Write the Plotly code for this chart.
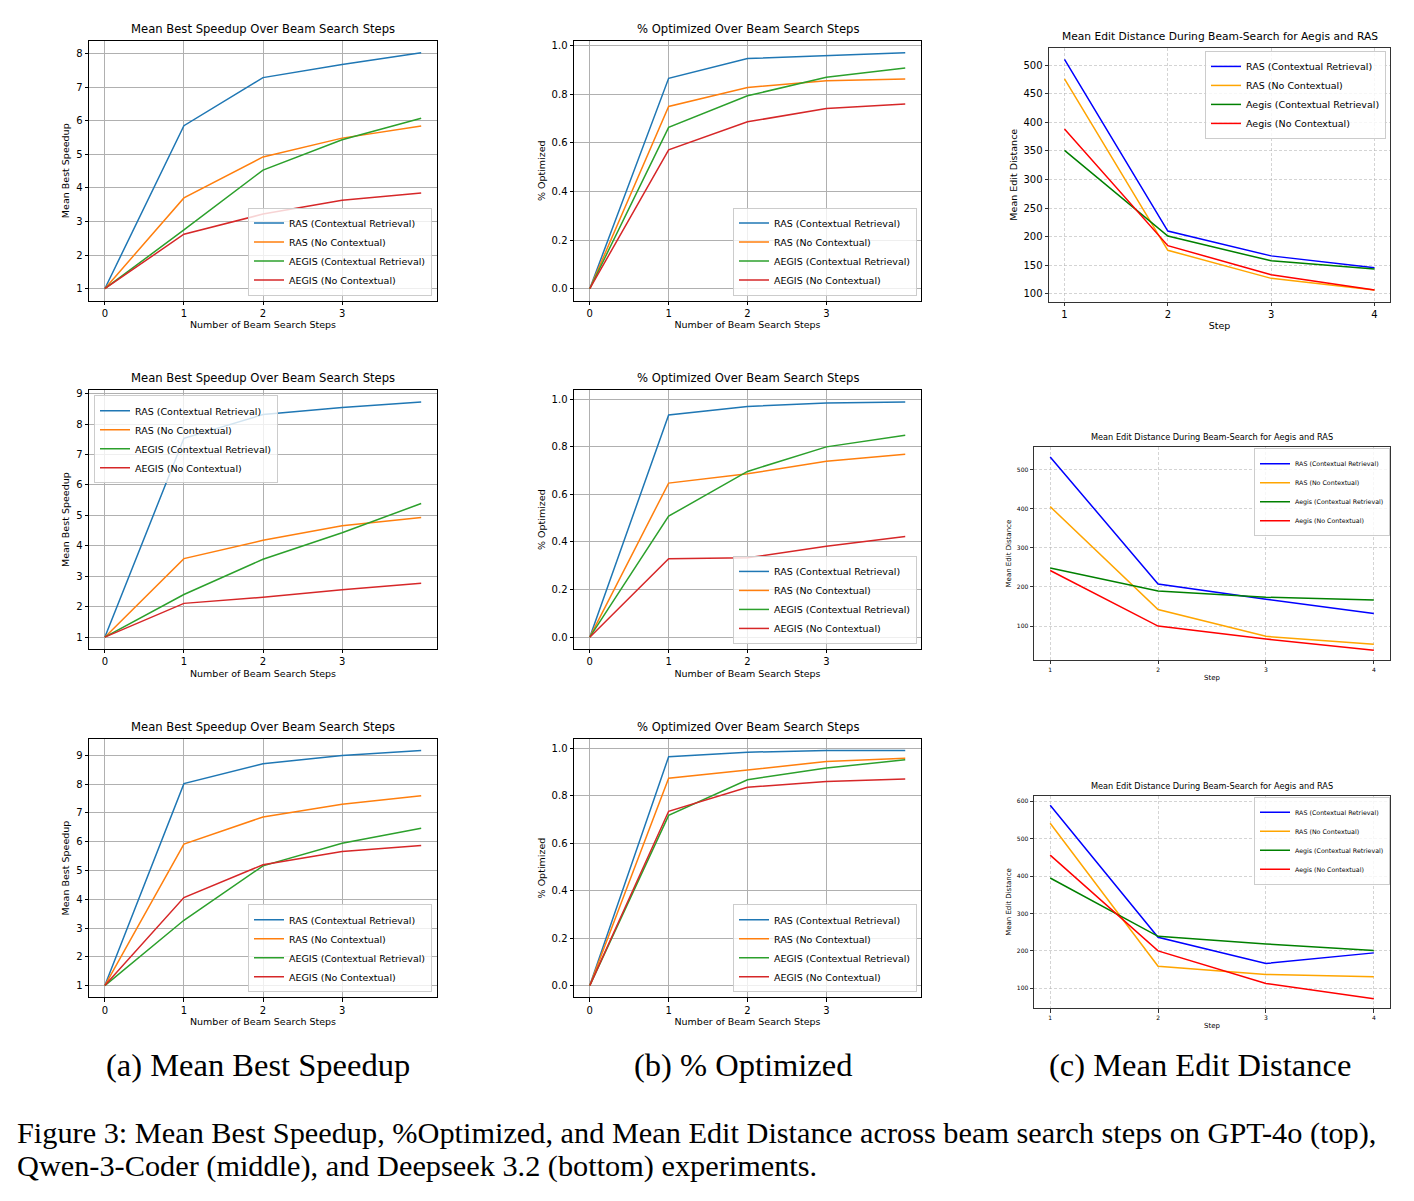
import plotly.graph_objects as go

# ---------------- data ----------------
steps_beam = [0, 1, 2, 3, 4]
steps_edit = [1, 2, 3, 4]

series_names_caps = ["RAS (Contextual Retrieval)", "RAS (No Contextual)",
                     "AEGIS (Contextual Retrieval)", "AEGIS (No Contextual)"]
series_names_edit = ["RAS (Contextual Retrieval)", "RAS (No Contextual)",
                     "Aegis (Contextual Retrieval)", "Aegis (No Contextual)"]

# GPT-4o (top row)
speedup_gpt_ras_cr = [1.0, 5.85, 7.28, 7.67, 8.02]
speedup_gpt_ras_nc = [1.0, 3.70, 4.92, 5.48, 5.84]
speedup_gpt_aeg_cr = [1.0, 2.75, 4.53, 5.43, 6.07]
speedup_gpt_aeg_nc = [1.0, 2.62, 3.22, 3.63, 3.85]

opt_gpt_ras_cr = [0.0, 0.865, 0.946, 0.959, 0.970]
opt_gpt_ras_nc = [0.0, 0.749, 0.827, 0.855, 0.862]
opt_gpt_aeg_cr = [0.0, 0.663, 0.793, 0.869, 0.907]
opt_gpt_aeg_nc = [0.0, 0.571, 0.686, 0.741, 0.759]

edit_gpt_ras_cr = [509.8, 209.8, 166.5, 145.7]
edit_gpt_ras_nc = [475.7, 176.3, 127.2, 106.9]
edit_gpt_aeg_cr = [350.9, 201.2, 157.8, 143.4]
edit_gpt_aeg_nc = [388.4, 184.4, 133.5, 106.9]

# Qwen-3-Coder (middle row)
speedup_qwen_ras_cr = [1.0, 7.53, 8.31, 8.54, 8.72]
speedup_qwen_ras_nc = [1.0, 3.58, 4.18, 4.66, 4.93]
speedup_qwen_aeg_cr = [1.0, 2.40, 3.56, 4.43, 5.39]
speedup_qwen_aeg_nc = [1.0, 2.11, 2.31, 2.56, 2.77]

opt_qwen_ras_cr = [0.0, 0.933, 0.969, 0.983, 0.987]
opt_qwen_ras_nc = [0.0, 0.647, 0.686, 0.739, 0.768]
opt_qwen_aeg_cr = [0.0, 0.508, 0.696, 0.799, 0.848]
opt_qwen_aeg_nc = [0.0, 0.329, 0.333, 0.382, 0.423]

edit_qwen_ras_cr = [532.0, 207.4, 168.5, 132.0]
edit_qwen_ras_nc = [405.0, 142.3, 73.8, 53.5]
edit_qwen_aeg_cr = [248.5, 189.6, 173.6, 166.8]
edit_qwen_aeg_nc = [242.0, 100.0, 67.0, 38.3]

# Deepseek 3.2 (bottom row)
speedup_ds_ras_cr = [1.0, 8.02, 8.71, 9.00, 9.17]
speedup_ds_ras_nc = [1.0, 5.92, 6.86, 7.30, 7.60]
speedup_ds_aeg_cr = [1.0, 3.27, 5.16, 5.95, 6.47]
speedup_ds_aeg_nc = [1.0, 4.06, 5.20, 5.66, 5.87]

opt_ds_ras_cr = [0.0, 0.964, 0.983, 0.990, 0.990]
opt_ds_ras_nc = [0.0, 0.873, 0.908, 0.944, 0.957]
opt_ds_aeg_cr = [0.0, 0.717, 0.867, 0.916, 0.951]
opt_ds_aeg_nc = [0.0, 0.734, 0.835, 0.860, 0.870]

edit_ds_ras_cr = [589.4, 236.6, 166.5, 194.9]
edit_ds_ras_nc = [541.5, 159.4, 137.2, 131.0]
edit_ds_aeg_cr = [395.2, 239.2, 218.8, 201.0]
edit_ds_aeg_nc = [456.4, 200.2, 113.3, 72.5]

beam_tick_vals = [0, 1, 2, 3]
edit_tick_vals = [1, 2, 3, 4]
speed_ticks_top = [1, 2, 3, 4, 5, 6, 7, 8]
speed_ticks_9 = [1, 2, 3, 4, 5, 6, 7, 8, 9]
opt_ticks = [0.0, 0.2, 0.4, 0.6, 0.8, 1.0]
edit_ticks_top = [100, 150, 200, 250, 300, 350, 400, 450, 500]
edit_ticks_mid = [100, 200, 300, 400, 500]
edit_ticks_bot = [100, 200, 300, 400, 500, 600]

panel_title_speed = "Mean Best Speedup Over Beam Search Steps"
panel_title_opt = "% Optimized Over Beam Search Steps"
panel_title_edit = "Mean Edit Distance During Beam-Search for Aegis and RAS"

# ---------------- styling ----------------
W, H = 1414, 1201
TAB = ["#1f77b4", "#ff7f0e", "#2ca02c", "#d62728"]
NAMED = ["#0000ff", "#ffa500", "#008000", "#ff0000"]
FONT = "DejaVu Sans, sans-serif"
SERIF = "Liberation Serif, Times New Roman, serif"


def px_x(v):
    return v / W


def px_y(v):
    return 1 - v / H


panels = [
    dict(x=steps_beam, ys=[speedup_gpt_ras_cr, speedup_gpt_ras_nc, speedup_gpt_aeg_cr, speedup_gpt_aeg_nc],
         xd=(89, 437), yd=(39, 299), yt=speed_ticks_top, kind="speed",
         leg=dict(x=432, y=294, xa="right", ya="bottom")),
    dict(x=steps_beam, ys=[opt_gpt_ras_cr, opt_gpt_ras_nc, opt_gpt_aeg_cr, opt_gpt_aeg_nc],
         xd=(574, 921), yd=(39, 299), yt=opt_ticks, kind="opt",
         leg=dict(x=917, y=294, xa="right", ya="bottom")),
    dict(x=steps_edit, ys=[edit_gpt_ras_cr, edit_gpt_ras_nc, edit_gpt_aeg_cr, edit_gpt_aeg_nc],
         xd=(1049, 1390), yd=(46, 300), yt=edit_ticks_top, kind="edit_big",
         leg=dict(x=1386, y=49, xa="right", ya="top")),
    dict(x=steps_beam, ys=[speedup_qwen_ras_cr, speedup_qwen_ras_nc, speedup_qwen_aeg_cr, speedup_qwen_aeg_nc],
         xd=(89, 437), yd=(389, 648), yt=speed_ticks_9, kind="speed",
         leg=dict(x=94, y=394, xa="left", ya="top")),
    dict(x=steps_beam, ys=[opt_qwen_ras_cr, opt_qwen_ras_nc, opt_qwen_aeg_cr, opt_qwen_aeg_nc],
         xd=(574, 921), yd=(389, 648), yt=opt_ticks, kind="opt",
         leg=dict(x=917, y=643, xa="right", ya="bottom")),
    dict(x=steps_edit, ys=[edit_qwen_ras_cr, edit_qwen_ras_nc, edit_qwen_aeg_cr, edit_qwen_aeg_nc],
         xd=(1034, 1390), yd=(446, 659), yt=edit_ticks_mid, kind="edit_small",
         leg=dict(x=1390, y=447, xa="right", ya="top")),
    dict(x=steps_beam, ys=[speedup_ds_ras_cr, speedup_ds_ras_nc, speedup_ds_aeg_cr, speedup_ds_aeg_nc],
         xd=(89, 437), yd=(738, 997), yt=speed_ticks_9, kind="speed",
         leg=dict(x=432, y=992, xa="right", ya="bottom")),
    dict(x=steps_beam, ys=[opt_ds_ras_cr, opt_ds_ras_nc, opt_ds_aeg_cr, opt_ds_aeg_nc],
         xd=(574, 921), yd=(738, 997), yt=opt_ticks, kind="opt",
         leg=dict(x=917, y=992, xa="right", ya="bottom")),
    dict(x=steps_edit, ys=[edit_ds_ras_cr, edit_ds_ras_nc, edit_ds_aeg_cr, edit_ds_aeg_nc],
         xd=(1034, 1390), yd=(795, 1008), yt=edit_ticks_bot, kind="edit_small",
         leg=dict(x=1390, y=796, xa="right", ya="top")),
]

fig = go.Figure()
layout = dict(
    width=W, height=H, margin=dict(l=0, r=0, t=0, b=0),
    paper_bgcolor="white", plot_bgcolor="white",
    font=dict(family=FONT, color="black"),
    showlegend=True,
)
annotations = []

for i, p in enumerate(panels, start=1):
    sfx = "" if i == 1 else str(i)
    xa_name, ya_name = "xaxis" + sfx, "yaxis" + sfx
    xref, yref = "x" + sfx, "y" + sfx
    leg_name = "legend" + sfx
    kind = p["kind"]
    is_edit = kind.startswith("edit")
    colors = NAMED if is_edit else TAB
    names = series_names_edit if is_edit else series_names_caps

    if kind == "edit_small":
        tick_fs, lab_fs, title_fs, leg_fs = 6, 7, 8.2, 6.3
    elif kind == "edit_big":
        tick_fs, lab_fs, title_fs, leg_fs = 10, 9.5, 10.7, 9.5
    else:
        tick_fs, lab_fs, title_fs, leg_fs = 10, 9.5, 11.6, 9.5

    for ys, c, n in zip(p["ys"], colors, names):
        fig.add_trace(go.Scatter(
            x=p["x"], y=ys, mode="lines", name=n,
            line=dict(color=c, width=1.5),
            xaxis=xref, yaxis=yref, legend=leg_name,
        ))

    # autoscale like matplotlib (5% margins)
    allv = [v for s in p["ys"] for v in s]
    lo, hi = min(allv), max(allv)
    m = (hi - lo) * 0.05
    xlo, xhi = min(p["x"]), max(p["x"])
    xm = (xhi - xlo) * 0.05

    if is_edit:
        gridkw = dict(showgrid=True, gridcolor="rgba(176,176,176,0.55)", gridwidth=0.8, griddash="3px,2px")
        xtitle, ytitle = "Step", "Mean Edit Distance"
        xticks = edit_tick_vals
        linecol = "#333333"
    else:
        gridkw = dict(showgrid=True, gridcolor="#b0b0b0", gridwidth=0.8)
        xtitle = "Number of Beam Search Steps"
        ytitle = "Mean Best Speedup" if kind == "speed" else "% Optimized"
        xticks = beam_tick_vals
        linecol = "black"

    common = dict(showline=True, linecolor=linecol, linewidth=1, mirror=True,
                  ticks="outside", ticklen=3.5, tickwidth=0.8, tickcolor=linecol,
                  zeroline=False, tickfont=dict(size=tick_fs, family=FONT, color="black"),
                  **gridkw)

    layout[xa_name] = dict(
        domain=[px_x(p["xd"][0]), px_x(p["xd"][1])],
        anchor=yref, range=[xlo - xm, xhi + xm],
        tickmode="array", tickvals=xticks,
        title=dict(text=xtitle, font=dict(size=lab_fs, family=FONT, color="black"), standoff=3),
        **common,
    )
    ykw = dict(
        domain=[px_y(p["yd"][1]), px_y(p["yd"][0])],
        anchor=xref, range=[lo - m, hi + m],
        tickmode="array", tickvals=p["yt"],
        title=dict(text=ytitle, font=dict(size=lab_fs, family=FONT, color="black"), standoff=4),
        **common,
    )
    if kind == "opt":
        ykw["tickformat"] = ".1f"
    layout[ya_name] = ykw

    lg = p["leg"]
    layout[leg_name] = dict(
        x=px_x(lg["x"]), y=px_y(lg["y"]), xanchor=lg["xa"], yanchor=lg["ya"],
        xref="paper", yref="paper",
        bgcolor="rgba(255,255,255,0.8)", bordercolor="#cccccc", borderwidth=1,
        font=dict(size=leg_fs, family=FONT, color="black"),
        tracegroupgap=0,
    )

    title_text = {"speed": panel_title_speed, "opt": panel_title_opt}.get(kind, panel_title_edit)
    annotations.append(dict(
        text=title_text, xref="paper", yref="paper",
        x=(px_x(p["xd"][0]) + px_x(p["xd"][1])) / 2, y=px_y(p["yd"][0] - 3),
        xanchor="center", yanchor="bottom", showarrow=False,
        font=dict(size=title_fs, family=FONT, color="black"),
    ))

# sub-captions
for txt, cx in [("(a) Mean Best Speedup", 258), ("(b) % Optimized", 743), ("(c) Mean Edit Distance", 1200)]:
    annotations.append(dict(
        text=txt, xref="paper", yref="paper", x=px_x(cx), y=px_y(1065),
        xanchor="center", yanchor="middle", showarrow=False,
        font=dict(size=32.5, family=SERIF, color="black"),
    ))

caption_lines = [
    "Figure 3: Mean Best Speedup, %Optimized, and Mean Edit Distance across beam search steps on GPT-4o (top),",
    "Qwen-3-Coder (middle), and Deepseek 3.2 (bottom) experiments.",
]
for line, cy in zip(caption_lines, [1133, 1166]):
    annotations.append(dict(
        text=line, xref="paper", yref="paper", x=px_x(15), y=px_y(cy),
        xanchor="left", yanchor="middle", showarrow=False,
        font=dict(size=30.3, family=SERIF, color="black"),
    ))

layout["annotations"] = annotations
fig.update_layout(**layout)
fig.write_html("out.html")
